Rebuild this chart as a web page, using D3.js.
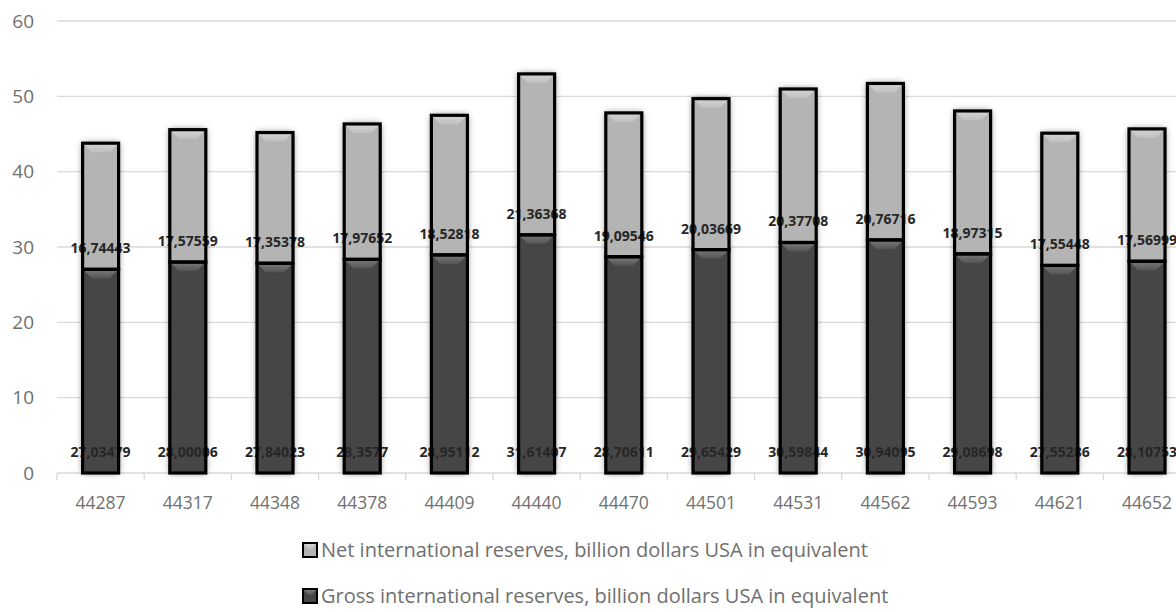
<!DOCTYPE html>
<html>
<head>
<meta charset="utf-8">
<script src="https://cdn.jsdelivr.net/npm/d3@7/dist/d3.min.js"></script>
<style>
  html, body { margin: 0; padding: 0; background: #fff; }
  svg { display: block; }
</style>
</head>
<body>
<svg id="chart" width="1176" height="612"></svg>
<script>
const categories = ["44287","44317","44348","44378","44409","44440","44470","44501","44531","44562","44593","44621","44652"];
const grossValues = [27.03479, 28.00006, 27.84023, 28.3577, 28.95112, 31.61407, 28.70611, 29.65429, 30.59844, 30.94095, 29.08698, 27.55286, 28.10753];
const netValues = [16.74443, 17.57559, 17.35378, 17.97652, 18.52818, 21.36368, 19.09546, 20.03669, 20.37708, 20.76716, 18.97315, 17.55448, 17.56999];
const yTicks = [0, 10, 20, 30, 40, 50, 60];
const seriesNames = {
  net: "Net international reserves, billion dollars USA in equivalent",
  gross: "Gross international reserves, billion dollars USA in equivalent"
};

const W = 1176, H = 612;
const svg = d3.select("#chart");
const fontFam = "'Open Sans', 'DejaVu Sans', sans-serif";

const defs = svg.append("defs");
const f = defs.append("filter").attr("id", "shadow").attr("x", "-40%").attr("y", "-10%").attr("width", "180%").attr("height", "120%");
f.append("feDropShadow").attr("dx", 0).attr("dy", 0).attr("stdDeviation", 3.5).attr("flood-color", "#000").attr("flood-opacity", 0.55);

const gDark = defs.append("linearGradient").attr("id", "gDark").attr("x1", 0).attr("x2", 0).attr("y1", 0).attr("y2", 1);
gDark.append("stop").attr("offset", "0%").attr("stop-color", "#7a7a7a");
gDark.append("stop").attr("offset", "100%").attr("stop-color", "#555555");
const gLight = defs.append("linearGradient").attr("id", "gLight").attr("x1", 0).attr("x2", 0).attr("y1", 0).attr("y2", 1);
gLight.append("stop").attr("offset", "0%").attr("stop-color", "#d4d4d4");
gLight.append("stop").attr("offset", "100%").attr("stop-color", "#c0c0c0");

const data = categories.map((c, i) => ({ cat: c, gross: grossValues[i], net: netValues[i] }));
const stack = d3.stack().keys(["gross", "net"]);
const series = stack(data);

const bandW = 87.2;
const x = d3.scaleBand().domain(categories).range([57, 57 + bandW * categories.length]).paddingInner(0).paddingOuter(0);
const y = d3.scaleLinear().domain([0, 60]).range([473, 21]);
const barW = 36;

// gridlines
svg.append("g").selectAll("line").data(yTicks.filter(t => t > 0)).join("line")
  .attr("x1", 57).attr("x2", W).attr("y1", d => y(d)).attr("y2", d => y(d))
  .attr("stroke", "#d9d9d9").attr("stroke-width", 1.3);

// y tick labels
svg.append("g").selectAll("text").data(yTicks).join("text")
  .attr("x", 34).attr("y", d => y(d)).attr("dy", "0.35em")
  .attr("text-anchor", "end").attr("font-family", fontFam).attr("font-size", 19)
  .attr("fill", "#707070").text(d => d);

// x axis
const xAxis = d3.axisBottom(x).tickSize(0).tickFormat(d => d);
const gx = svg.append("g").attr("transform", `translate(0,${y(0)})`).call(xAxis);
gx.select(".domain").attr("stroke", "#d9d9d9").attr("stroke-width", 1.3).attr("d", `M57,0H${W}`);
gx.selectAll(".tick text").attr("font-family", fontFam).attr("font-size", 17.5).attr("fill", "#707070").attr("dy", 0).attr("y", 36);
// category boundary ticks
svg.append("g").selectAll("line").data(categories).join("line")
  .attr("x1", d => x(d)).attr("x2", d => x(d)).attr("y1", y(0)).attr("y2", y(0) + 7)
  .attr("stroke", "#d9d9d9").attr("stroke-width", 1.3);

const colors = { gross: "#464646", net: "#b4b4b4" };
const bevel = { gross: "url(#gDark)", net: "url(#gLight)" };

const bx = d => x(d.data.cat) + x.bandwidth() / 2 - barW / 2;

// shadows
svg.append("g").selectAll("rect").data(data).join("rect")
  .attr("x", d => x(d.cat) + x.bandwidth() / 2 - barW / 2)
  .attr("width", barW)
  .attr("y", d => y(d.gross + d.net))
  .attr("height", d => y(0) - y(d.gross + d.net))
  .attr("fill", "#888").attr("filter", "url(#shadow)");

// fills
series.forEach(s => {
  const g = svg.append("g");
  g.selectAll("rect").data(s).join("rect")
    .attr("x", bx).attr("width", barW)
    .attr("y", d => y(d[1])).attr("height", d => y(d[0]) - y(d[1]))
    .attr("fill", colors[s.key]);
  g.selectAll("path").data(s).join("path")
    .attr("d", d => {
      const x0 = bx(d), x1 = x0 + barW, t = y(d[1]), b = 9;
      return `M${x0},${t}L${x1},${t}L${x1 - b},${t + b}L${x0 + b},${t + b}Z`;
    })
    .attr("fill", bevel[s.key]);
});

// labels (inside base)
series.forEach(s => {
  svg.append("g").selectAll("text").data(s).join("text")
    .attr("x", d => x(d.data.cat) + x.bandwidth() / 2)
    .attr("y", d => y(d[0]) - 21).attr("dy", "0.35em")
    .attr("text-anchor", "middle").attr("font-family", fontFam)
    .attr("font-size", 14).attr("font-weight", "bold").attr("fill", "#262626")
    .text(d => String(s.key === "gross" ? d.data.gross : d.data.net).replace(".", ","));
});

// outlines
series.forEach(s => {
  svg.append("g").selectAll("rect").data(s).join("rect")
    .attr("x", bx).attr("width", barW)
    .attr("y", d => y(d[1])).attr("height", d => y(d[0]) - y(d[1]))
    .attr("fill", "none").attr("stroke", "#000").attr("stroke-width", 3.2);
});

// legend
const legendItems = [
  { key: "net", y: 550 },
  { key: "gross", y: 596 }
];
const lg = svg.append("g");
legendItems.forEach(it => {
  const g = lg.append("g");
  g.append("rect").attr("x", 303).attr("y", it.y - 7).attr("width", 14).attr("height", 14)
    .attr("fill", colors[it.key]).attr("stroke", "#000").attr("stroke-width", 2);
  g.append("path").attr("d", `M304,${it.y - 6}L316,${it.y - 6}L312,${it.y - 1}L308,${it.y - 1}Z`).attr("fill", bevel[it.key]);
  g.append("text").attr("x", 321).attr("y", it.y).attr("dy", "0.35em")
    .attr("font-family", fontFam).attr("font-size", 20).attr("fill", "#6f6f6f")
    .text(seriesNames[it.key]);
});
</script>
</body>
</html>
